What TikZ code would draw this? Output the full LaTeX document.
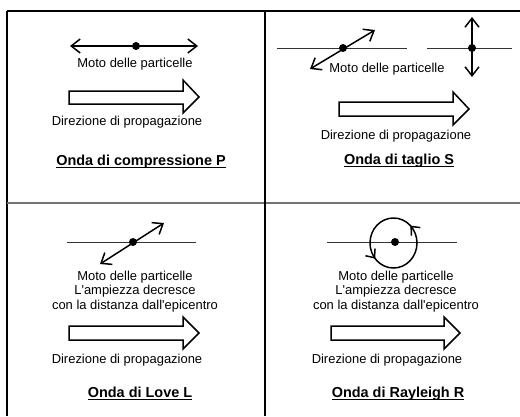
\documentclass[tikz,border=0pt]{standalone}
\usepackage{fontspec}
\setmainfont{Liberation Sans}
\usetikzlibrary{arrows.meta,decorations.markings}
\tikzset{
  grid/.style={line width=1.5bp,black},
  midline/.style={line width=2bp,black!55},
  thinline/.style={line width=1bp,black!80},
  dot/.style={circle,fill=black,inner sep=0pt,minimum size=8bp},
  motion/.style={line width=1.5bp,{Straight Barb[length=9bp,width=14bp,line width=1.5bp]}-{Straight Barb[length=9bp,width=14bp,line width=1.5bp]}},
  hollow/.style={line width=1.5bp,black,fill=white,line join=miter},
  lbl/.style={inner sep=0pt,anchor=base,font=\fontsize{13}{14.2}\selectfont,align=center},
  ttl/.style={inner sep=0pt,anchor=base,font=\fontsize{14.5}{16}\selectfont\bfseries},
  uline/.style={line width=1.2bp}
}
\newcommand{\hollowarrow}[8]{% x0, hb, tip, bt, bb, ht, hbb, ty
  \draw[hollow] (#1,#4) -- (#2,#4) -- (#2,#6) -- (#3,#8) -- (#2,#7) -- (#2,#5) -- (#1,#5) -- cycle;}
\begin{document}
\begin{tikzpicture}[x=1bp,y=-1bp]
\useasboundingbox (0,0) rectangle (520,416);
% table grid
\draw[grid] (7,11) -- (520,11);
\draw[grid] (7,11) -- (7,416);
\draw[midline] (7,203) -- (520,203);
\draw[grid] (265,11) -- (265,416);

% ---------- Panel P ----------
\node[dot] (pd) at (136,46) {};
\coordinate (pl) at (70,46);
\coordinate (pr) at (198,46);
\draw[motion] (pl) -- (pr);
\node[lbl] (pm) at (135,67) {Moto delle particelle};
\hollowarrow{69}{183}{199}{91}{104}{80}{113}{97}
\node[lbl] (pdir) at (127,125) {Direzione di propagazione};
\node[ttl] (pt) at (141,165) {Onda di compressione P};
\draw[uline] ([yshift=-2.3bp]pt.base west) -- ([yshift=-2.3bp]pt.base east);

% ---------- Panel S ----------
\coordinate (sl1) at (277,48);
\coordinate (sr1) at (407,48);
\coordinate (sl2) at (427,48);
\coordinate (sr2) at (512,48);
\draw[thinline] (sl1) -- (sr1);
\draw[thinline] (sl2) -- (sr2);
\node[dot] (sd1) at (343,48) {};
\node[dot] (sd2) at (472,48) {};
\coordinate (sa1) at (310,69);
\coordinate (sb1) at (375,30);
\draw[motion] (sa1) -- (sb1);
\coordinate (sa2) at (472,77);
\coordinate (sb2) at (472,17);
\draw[motion] (sa2) -- (sb2);
\node[lbl] (sm) at (387,72.5) {Moto delle particelle};
\hollowarrow{339}{453}{469}{102}{116}{92}{125}{109}
\node[lbl] (sdir) at (396,139) {Direzione di propagazione};
\node[ttl] (st) at (399,164) {Onda di taglio S};
\draw[uline] ([yshift=-2.3bp]st.base west) -- ([yshift=-2.3bp]st.base east);

% ---------- Panel L ----------
\coordinate (ll) at (67,242);
\coordinate (lr) at (196,242);
\draw[thinline] (ll) -- (lr);
\node[dot] (ld) at (133,242) {};
\coordinate (la) at (100,264);
\coordinate (lb) at (164,223);
\draw[motion] (la) -- (lb);
\node[lbl,anchor=base] (lm) at (135,309) {Moto delle particelle\\L\textquotesingle ampiezza decresce\\con la distanza dall\textquotesingle epicentro};
\hollowarrow{69}{183}{199}{326}{340}{317}{349}{333}
\node[lbl] (ldir) at (127,363) {Direzione di propagazione};
\node[ttl] (lt) at (140,397) {Onda di Love L};
\draw[uline] ([yshift=-2.3bp]lt.base west) -- ([yshift=-2.3bp]lt.base east);

% ---------- Panel R ----------
\coordinate (rl) at (327,242);
\coordinate (rr) at (457,242);
\draw[thinline] (rl) -- (rr);
\node[dot] (rd) at (395,242) {};
\draw[line width=1.5bp,
  decoration={markings,
    mark=at position 0.39 with {\arrowreversed{Straight Barb[length=7bp,width=12bp,line width=1.5bp]}},
    mark=at position 0.875 with {\arrowreversed{Straight Barb[length=7bp,width=12bp,line width=1.5bp]}}},
  postaction=decorate] (rd) ++(-1.5,1) ellipse [x radius=23.5, y radius=25];
\node[lbl,anchor=base] (rm) at (396,309) {Moto delle particelle\\L\textquotesingle ampiezza decresce\\con la distanza dall\textquotesingle epicentro};
\hollowarrow{331}{444}{460}{326}{340}{317}{349}{333}
\node[lbl] (rdir) at (387,363) {Direzione di propagazione};
\node[ttl] (rt) at (398,397) {Onda di Rayleigh R};
\draw[uline] ([yshift=-2.3bp]rt.base west) -- ([yshift=-2.3bp]rt.base east);
\end{tikzpicture}
\end{document}
